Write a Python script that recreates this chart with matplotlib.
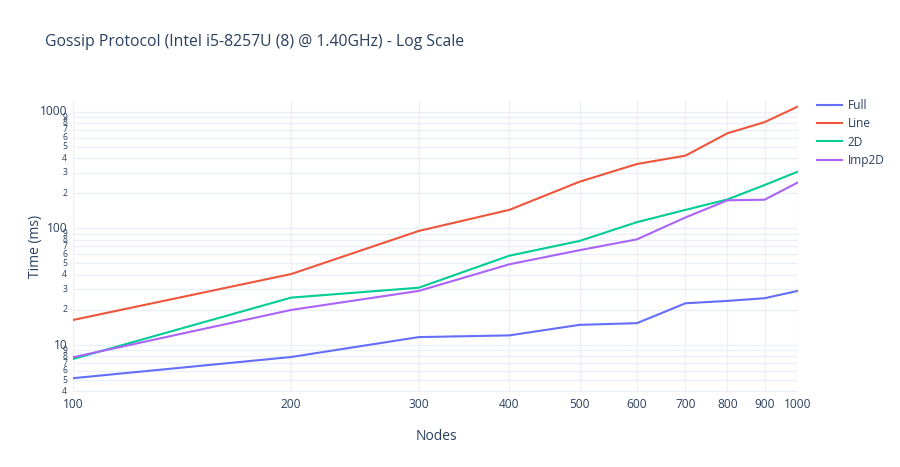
import matplotlib.pyplot as plt
from matplotlib.ticker import FixedLocator, NullFormatter, NullLocator
import numpy as np

plt.rcParams['font.family'] = ['Open Sans', 'DejaVu Sans']

nodes = [100, 200, 300, 400, 500, 600, 700, 800, 900, 1000]
full = [5.2, 7.9, 11.7, 12.1, 14.9, 15.4, 22.8, 23.9, 25.2, 29.1]
line = [16.4, 40.6, 95, 144, 251, 356, 420, 653, 813, 1104]
grid2d = [7.6, 25.5, 31.0, 58.3, 78, 113, 144, 177, 235, 306]
imp2d = [7.86, 20.0, 29.1, 49.2, 65, 80.5, 124, 174, 176, 247]

series_names = ['Full', 'Line', '2D', 'Imp2D']
series = [full, line, grid2d, imp2d]
colors = ['#636EFA', '#EF553B', '#00CC96', '#AB63FA']

text_col = '#2a3f5f'
grid_col = '#EBF0F8'

fig = plt.figure(figsize=(9, 4.67), dpi=100)
ax = fig.add_axes([73 / 900, 1 - 392 / 467, (797.7 - 73) / 900, 292 / 467])

handles = []
for name, vals, c in zip(series_names, series, colors):
    h, = ax.plot(nodes, vals, color=c, lw=1.5, label=name, zorder=3)
    handles.append(h)

ax.set_xscale('log')
ax.set_yscale('log')
ax.set_xlim(100, 1000)
ax.set_ylim(3.96, 1259)

# x ticks
ax.xaxis.set_major_locator(FixedLocator(nodes))
ax.xaxis.set_minor_locator(NullLocator())
ax.xaxis.set_minor_formatter(NullFormatter())
ax.set_xticks(nodes)
ax.set_xticklabels([str(n) for n in nodes])

# y ticks: every 1..9 per decade, decades labeled large, others small
yt = []
for dec in [1, 10, 100, 1000]:
    for m in range(1, 10):
        v = m * dec
        if 3.96 <= v <= 1259:
            yt.append(v)
ax.yaxis.set_major_locator(FixedLocator(yt))
ax.yaxis.set_minor_locator(NullLocator())
ax.set_yticks(yt)
ax.set_yticklabels([''] * len(yt))
for v in yt:
    lead = int(str(int(v))[0])
    if str(int(v)).strip('0') == '1':
        ax.text(-0.008, v, str(int(v)), transform=ax.get_yaxis_transform(),
                ha='right', va='center', fontsize=8.6, color=text_col)
    else:
        ax.text(-0.008, v, str(lead), transform=ax.get_yaxis_transform(),
                ha='right', va='center', fontsize=6.2, color=text_col)

ax.tick_params(axis='both', length=0, colors=text_col, labelsize=8.6)
ax.tick_params(axis='x', pad=4)
ax.grid(True, color=grid_col, lw=1, zorder=0)
for s in ax.spines.values():
    s.set_visible(False)

fig.text(436 / 900, 1 - 437 / 467, 'Nodes', ha='center', va='center',
         fontsize=10, color=text_col)
fig.text(35 / 900, 1 - 246 / 467, 'Time (ms)', ha='center', va='center',
         rotation=90, fontsize=10, color=text_col)
fig.text(45 / 900, 1 - 42 / 467, 'Gossip Protocol (Intel i5-8257U (8) @ 1.40GHz) - Log Scale',
         ha='left', va='center', fontsize=11.3, color=text_col)

fig.legend(handles=handles, loc='upper left', bbox_to_anchor=(812 / 900, 1 - 94 / 467),
           frameon=False, fontsize=8.6, handlelength=2.1, handletextpad=0.5,
           labelspacing=0.45, labelcolor=text_col, borderaxespad=0)

fig.savefig('out.png', dpi=100)
